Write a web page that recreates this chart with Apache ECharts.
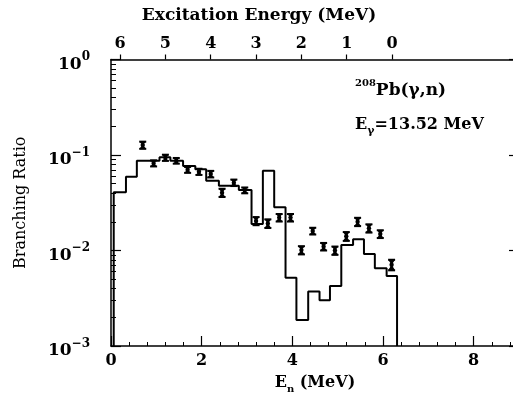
<!DOCTYPE html>
<html><head><meta charset="utf-8">
<script src="https://cdn.jsdelivr.net/npm/echarts@6/dist/echarts.min.js"></script>
<style>html,body{margin:0;padding:0;background:#fff}#c{width:513px;height:402px}</style>
</head><body><div id="c"></div>
<script>
// Histogram (calculation) bin edges (MeV) and levels
const binEdges = [0.06, 0.33, 0.57, 1.07, 1.31, 1.59, 1.86, 2.10, 2.38, 2.82, 3.10, 3.35, 3.60, 3.85, 4.09, 4.35, 4.60, 4.83, 5.08, 5.34, 5.58, 5.82, 6.08, 6.31];
const binLevels = [0.0407, 0.0593, 0.0871, 0.0946, 0.0871, 0.0767, 0.0708, 0.0538, 0.0477, 0.0430, 0.0190, 0.0685, 0.0283, 0.00519, 0.00187, 0.00371, 0.00301, 0.00425, 0.0114, 0.0131, 0.00919, 0.00651, 0.0054];
// Measured points
const pointEn    = [0.70, 0.94, 1.20, 1.44, 1.69, 1.94, 2.20, 2.45, 2.71, 2.95, 3.20, 3.46, 3.71, 3.96, 4.20, 4.45, 4.69, 4.94, 5.19, 5.44, 5.69, 5.94, 6.19];
const pointRatio = [0.127, 0.0819, 0.0937, 0.0871, 0.0700, 0.0668, 0.0632, 0.0403, 0.0513, 0.0427, 0.0204, 0.0192, 0.0221, 0.0221, 0.0101, 0.0160, 0.0110, 0.0100, 0.0141, 0.0200, 0.0171, 0.0149, 0.0071];
const pointErr   = [0.011, 0.006, 0.007, 0.006, 0.005, 0.005, 0.005, 0.004, 0.004, 0.003, 0.002, 0.002, 0.002, 0.002, 0.001, 0.0013, 0.001, 0.001, 0.0015, 0.002, 0.0017, 0.0014, 0.0009];
// Axes
const enMin = 0, enMax = 9;
const enTicks = [0, 2, 4, 6, 8];
const excitationTicks = [0, 1, 2, 3, 4, 5, 6];
const exOffset = 6.2; // Ex = exOffset - En
const yMin = 0.001, yMax = 1;
const yDecades = [0.001, 0.01, 0.1, 1];
const yMinorMult = [2, 3, 4, 5, 6, 7, 8, 9];

const FONT = '"DejaVu Serif", "Liberation Serif", serif';
const yMinor = [];
yDecades.slice(0, 3).forEach(d => yMinorMult.forEach(k => yMinor.push(+(d * k).toPrecision(3))));

const histData = [[binEdges[0], yMin]];
binLevels.forEach((v, i) => { histData.push([binEdges[i], v], [binEdges[i + 1], v]); });
histData.push([binEdges[binEdges.length - 1], yMin]);

const ptData = pointEn.map((x, i) => [x, pointRatio[i], pointRatio[i] - pointErr[i], pointRatio[i] + pointErr[i]]);

const chart = echarts.init(document.getElementById('c'), null, {renderer: 'canvas'});
const supRich = {
  b: {fontFamily: FONT, fontWeight: 'bold', fontSize: 17, lineHeight: 17, padding: [5, 0, 0, 0], verticalAlign: 'top', color: '#000'},
  s: {fontFamily: FONT, fontWeight: 'bold', fontSize: 12, lineHeight: 12, verticalAlign: 'top', color: '#000'}
};
function subRich(size, subSize, color) {
  return {
    t: {fontFamily: FONT, fontWeight: 'bold', fontSize: size, lineHeight: size, verticalAlign: 'top', color: color, fill: color},
    sub: {fontFamily: FONT, fontWeight: 'bold', fontSize: subSize, lineHeight: subSize, padding: [Math.round(size * 0.55), 0, 0, 0], verticalAlign: 'top', color: color, fill: color},
    sup: {fontFamily: FONT, fontWeight: 'bold', fontSize: subSize, lineHeight: subSize, verticalAlign: 'top', color: color, fill: color},
    tt: {fontFamily: FONT, fontWeight: 'bold', fontSize: size, lineHeight: size, padding: [4, 0, 0, 0], verticalAlign: 'top', color: color, fill: color}
  };
}
chart.setOption({
  animation: false,
  backgroundColor: '#fff',
  grid: {left: 111, top: 59.5, width: 408, height: 286.5, containLabel: false, outerBoundsMode: 'none'},
  xAxis: [{
    type: 'value', min: enMin, max: enMax, interval: 2, position: 'bottom',
    axisLine: {show: true, onZero: false, lineStyle: {color: '#000', width: 1.5}},
    axisTick: {show: true, inside: true, length: 10, lineStyle: {color: '#000', width: 1.2}},
    minorTick: {show: true, splitNumber: 5, length: 4, lineStyle: {color: '#000', width: 1}},
    splitLine: {show: false},
    axisLabel: {color: '#000', fontFamily: FONT, fontWeight: 'bold', fontSize: 16, margin: 7,
      customValues: enTicks},
    name: '{t|E}{sub|n}{t| (MeV)}', nameLocation: 'middle', nameGap: 29,
    nameTextStyle: {rich: subRich(16, 10, '#000')}
  }, {
    type: 'value', min: exOffset - enMax, max: exOffset, inverse: true, position: 'top',
    axisLine: {show: true, onZero: false, lineStyle: {color: '#000', width: 1.5}},
    axisTick: {show: true, inside: false, length: 5, customValues: excitationTicks, lineStyle: {color: '#000', width: 1.2}},
    splitLine: {show: false},
    axisLabel: {color: '#000', fontFamily: FONT, fontWeight: 'bold', fontSize: 16, margin: 8,
      customValues: excitationTicks}
  }],
  yAxis: [{
    type: 'log', logBase: 10, min: yMin, max: yMax, position: 'left',
    axisLine: {show: true, onZero: false, lineStyle: {color: '#000', width: 1.5}},
    axisTick: {show: true, inside: true, length: 10, lineStyle: {color: '#000', width: 1.2}},
    splitLine: {show: false},
    axisLabel: {margin: 21, formatter: v => '{b|10}{s|' + String(Math.round(Math.log10(v))).replace('-', '\u2212') + '}', rich: supRich},
    name: 'Branching Ratio', nameLocation: 'middle', nameGap: 82, nameRotate: 90,
    nameTextStyle: {fontFamily: FONT, fontSize: 16, color: '#000'}
  }, {
    type: 'log', logBase: 10, min: yMin, max: yMax, position: 'left',
    axisLine: {show: false}, axisLabel: {show: false}, splitLine: {show: false},
    axisTick: {show: true, inside: true, length: 5, customValues: yMinor, lineStyle: {color: '#000', width: 1}}
  }, {
    type: 'log', logBase: 10, min: yMin, max: yMax, position: 'right',
    axisLine: {show: true, onZero: false, lineStyle: {color: '#000', width: 1.5}},
    axisLabel: {show: false}, splitLine: {show: false},
    axisTick: {show: true, inside: true, length: 10, lineStyle: {color: '#000', width: 1.2}}
  }],
  graphic: [{
    type: 'text', x: 259, y: 16, style: {text: 'Excitation Energy (MeV)', font: 'bold 17px ' + FONT, fill: '#000', align: 'center', verticalAlign: 'middle', textAlign: 'center', textVerticalAlign: 'middle'}
  }, {
    type: 'text', left: 355, top: 78, style: {
      text: '{sup|208}{tt|Pb(\u03b3,n)}', rich: subRich(17, 10, '#000')}
  }, {
    type: 'text', left: 355, top: 117, style: {
      text: '{t|E}{sub|\u03b3}{t|=13.52 MeV}', rich: subRich(16, 11, '#000')}
  }],
  series: [{
    type: 'line', xAxisIndex: 0, yAxisIndex: 0, data: histData, showSymbol: false, symbol: 'none',
    lineStyle: {color: '#000', width: 2}, clip: true, z: 3
  }, {
    type: 'custom', xAxisIndex: 0, yAxisIndex: 0, data: ptData, z: 4,
    renderItem: (params, api) => {
      const c = api.coord([api.value(0), api.value(1)]);
      const lo = api.coord([api.value(0), api.value(2)]);
      const hi = api.coord([api.value(0), api.value(3)]);
      const w = 3.5;
      const st = {stroke: '#000', lineWidth: 2};
      return {type: 'group', children: [
        {type: 'line', shape: {x1: c[0], y1: lo[1], x2: c[0], y2: hi[1]}, style: st},
        {type: 'line', shape: {x1: c[0] - w, y1: lo[1], x2: c[0] + w, y2: lo[1]}, style: st},
        {type: 'line', shape: {x1: c[0] - w, y1: hi[1], x2: c[0] + w, y2: hi[1]}, style: st},
        {type: 'polygon', shape: {points: [[c[0] - w, hi[1]], [c[0] + w, hi[1]], [c[0], c[1]], [c[0] + w, lo[1]], [c[0] - w, lo[1]], [c[0], c[1]]]}, style: {fill: '#000'}},
        {type: 'circle', shape: {cx: c[0], cy: c[1], r: 2.2}, style: {fill: '#000'}}
      ]};
    }
  }]
});
</script>
</body></html>
